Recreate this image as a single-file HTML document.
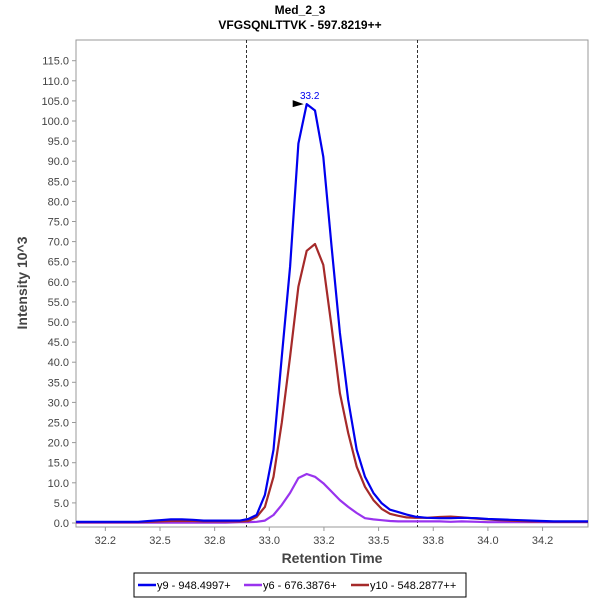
<!DOCTYPE html>
<html><head><meta charset="utf-8"><style>
body{margin:0;background:#fff;font-family:"Liberation Sans",sans-serif}
svg text{font-family:"Liberation Sans",sans-serif}
</style></head><body>
<svg id="chart" width="600" height="600">
<text x="300" y="14" text-anchor="middle" font-size="12" font-weight="bold" fill="#000">Med_2_3</text>
<text x="300" y="29" text-anchor="middle" font-size="12" font-weight="bold" fill="#000">VFGSQNLTTVK - 597.8219++</text>
<rect x="76" y="40" width="512" height="487" fill="#fff" stroke="#999"/>
<g id="yticks"></g><g id="xticks"></g><g id="series"></g><g id="marks"></g>
<text transform="translate(27,283) rotate(-90)" text-anchor="middle" font-size="14" font-weight="bold" fill="#444">Intensity 10^3</text>
<text x="332" y="563" text-anchor="middle" font-size="14" font-weight="bold" fill="#444">Retention Time</text>
<g>
<rect x="134" y="573" width="332" height="24" fill="#fff" stroke="#000"/>
<line x1="138" y1="585" x2="156" y2="585" stroke="#0000ee" stroke-width="2.5"/>
<text x="157" y="589" font-size="11" fill="#000">y9 - 948.4997+</text>
<line x1="244" y1="585" x2="262" y2="585" stroke="#9933ee" stroke-width="2.5"/>
<text x="263" y="589" font-size="11" fill="#000">y6 - 676.3876+</text>
<line x1="351" y1="585" x2="369" y2="585" stroke="#a52a2a" stroke-width="2.5"/>
<text x="370" y="589" font-size="11" fill="#000">y10 - 548.2877++</text>
</g>
</svg>
<script>
const times=[32.116,32.2,32.3,32.4,32.45,32.5,32.55,32.6,32.65,32.7,32.75,32.8,32.866,32.904,32.942,32.980,33.019,33.057,33.095,33.133,33.171,33.209,33.247,33.285,33.323,33.361,33.400,33.438,33.476,33.514,33.552,33.590,33.628,33.666,33.72,33.78,33.83,33.88,33.95,34.0,34.05,34.1,34.15,34.2,34.25,34.3,34.458];
const y9=[0.3,0.3,0.3,0.3,0.5,0.7,0.9,0.9,0.8,0.6,0.6,0.6,0.6,1.0,2.0,7.0,18.2,41.4,63.8,94.4,104.2,102.6,91.1,68.7,47.3,30.6,18.2,11.5,7.5,4.9,3.3,2.7,2.1,1.6,1.3,1.2,1.2,1.3,1.2,1.0,0.9,0.8,0.7,0.6,0.5,0.4,0.4];
const y10=[0.2,0.2,0.2,0.2,0.3,0.4,0.5,0.5,0.5,0.4,0.4,0.4,0.4,0.5,1.5,4.0,11.5,25,41.4,58.8,67.7,69.4,64.2,48.8,32.3,22.4,14.0,9.0,5.7,3.5,2.3,1.8,1.4,1.3,1.3,1.5,1.6,1.4,1.1,0.9,0.7,0.6,0.5,0.4,0.4,0.3,0.3];
const y6=[0.1,0.1,0.1,0.1,0.1,0.1,0.1,0.1,0.1,0.1,0.1,0.1,0.2,0.2,0.3,0.6,2.0,4.5,7.5,11.2,12.2,11.5,9.9,7.8,5.7,4.0,2.5,1.2,0.9,0.7,0.5,0.4,0.4,0.4,0.4,0.4,0.3,0.4,0.3,0.2,0.2,0.2,0.2,0.2,0.2,0.2,0.2];
const xTicks=[32.25,32.5,32.75,33.0,33.25,33.5,33.75,34.0,34.25];
const xTickLabels=["32.2","32.5","32.8","33.0","33.2","33.5","33.8","34.0","34.2"];
const yTicks=[0,5,10,15,20,25,30,35,40,45,50,55,60,65,70,75,80,85,90,95,100,105,110,115];
const boundaries=[32.893,33.676];
const peakTime=33.171, peakValue=104.2, peakLabel="33.2";

const NS="http://www.w3.org/2000/svg";
const X=t=>269.3+(t-33.0)*218.6;
const Y=v=>523-v*4.02;
function mk(tag,attrs,parent,txt){const e=document.createElementNS(NS,tag);for(const k in attrs)e.setAttribute(k,attrs[k]);if(txt!==undefined)e.textContent=txt;parent.appendChild(e);return e;}
const yg=document.getElementById('yticks');
yTicks.forEach(v=>{
  const l=mk('line',{x1:72,x2:76,y1:Y(v),y2:Y(v),stroke:'#999'},yg);
  
  
  const t=mk('text',{x:69,y:Y(v)+4,'text-anchor':'end','font-size':11,fill:'#444'},yg,v.toFixed(1));
  
  
});
const xg=document.getElementById('xticks');
xTicks.forEach((v,i)=>{
  const l=mk('line',{x1:X(v),x2:X(v),y1:527,y2:531,stroke:'#999'},xg);
  
  
  const t=mk('text',{x:X(v),y:544,'text-anchor':'middle','font-size':11,fill:'#444'},xg,xTickLabels[i]);
  
  
});
const sg=document.getElementById('series');
boundaries.forEach(b=>{
  const xx=Math.round(X(b))+0.5;
  const l=mk('line',{x1:xx,x2:xx,y1:40,y2:527,stroke:'#000','stroke-width':0.8,'stroke-dasharray':'3,2'},sg);
  
  
});
[[y6,'#9933ee','series-y6'],[y10,'#a52a2a','series-y10'],[y9,'#0000ee','series-y9']].forEach(([d,c,n])=>{
  const p=mk('polyline',{points:times.map((t,i)=>X(t).toFixed(1)+','+Y(d[i]).toFixed(1)).join(' '),fill:'none',stroke:c,'stroke-width':2.2,'stroke-linejoin':'round'},sg);
  
  
});
const mg=document.getElementById('marks');
const px=X(peakTime),py=Y(peakValue);
const tri=mk('polygon',{points:`${px-14},${py-4} ${px-3},${py} ${px-14},${py+3}`,fill:'#000'},mg);


const pl=mk('text',{x:px+3,y:py-5,'text-anchor':'middle','font-size':10,fill:'#0000ee'},mg,peakLabel);


</script>
</body></html>
